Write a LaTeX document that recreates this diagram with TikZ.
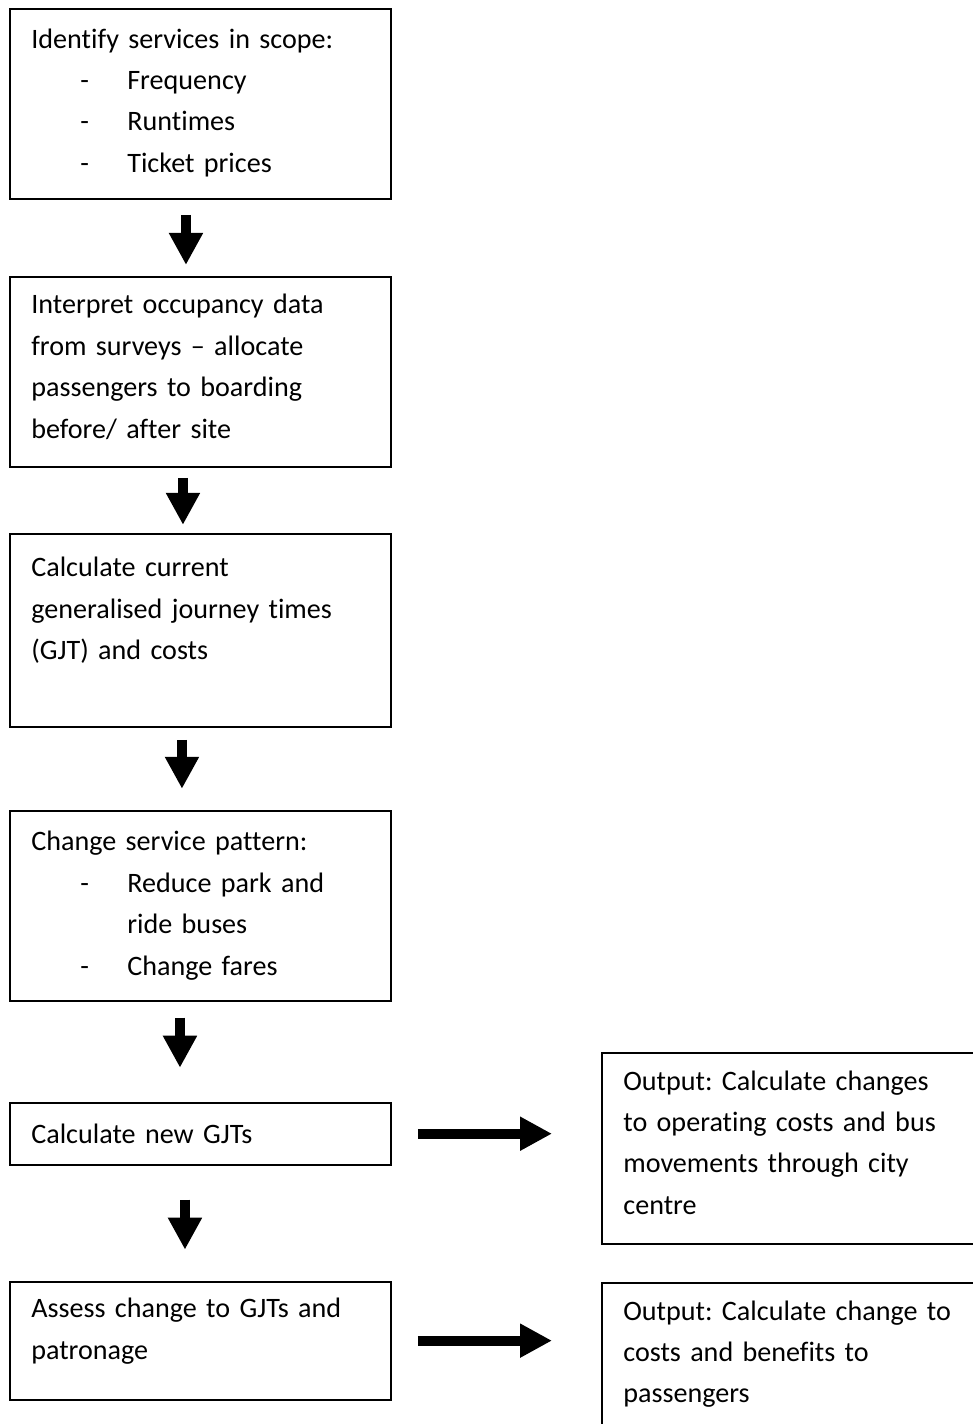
\documentclass[tikz,border=0pt]{standalone}
\usepackage{fontspec}
\setmainfont{Carlito}[Ligatures={NoCommon}]
\frenchspacing
\usetikzlibrary{arrows.meta,positioning}
\tikzset{
  % plain step box, text is set on top of it
  stepbox/.style={
    rectangle, draw=black, line width=1.1pt,
    anchor=north west, minimum width=7.62cm, inner sep=0pt
  },
  outbox/.style={stepbox, minimum width=8cm},
  % box text
  steptext/.style={
    anchor=base west, inner sep=0pt, align=left, text width=7.2cm,
    font=\fontsize{16pt}{23.6pt}\selectfont
  },
  % fat block arrow
  blockarr/.style={-{Triangle[length=0.64cm,width=0.64cm]}, line width=0.2cm, black},
}

\begin{document}
\begin{tikzpicture}

  \useasboundingbox (0,0) rectangle (19.46,-28.48);
  \clip (0,0) rectangle (19.46,-28.48);

  \node[stepbox, minimum height=3.80cm] (scope) at (0.18,-0.16) {};
  \node[stepbox, below=1.52cm of scope, minimum height=3.80cm] (occup) {};
  \node[stepbox, below=1.30cm of occup, minimum height=3.86cm] (gjt) {};
  \node[stepbox, below=1.64cm of gjt, minimum height=3.80cm] (pattern) {};
  \node[stepbox, below=2.00cm of pattern, minimum height=1.24cm] (newgjt) {};
  \node[stepbox, below=2.30cm of newgjt, minimum height=2.36cm] (assess) {};

  \node[outbox, minimum height=3.82cm] (opcost) at (12.02,-21.04) {};
  \node[outbox, minimum height=4.00cm] (benefit) at (12.02,-25.64) {};

  %% Texts
  \node[steptext] (scopetxt) at ([xshift=0.44cm,yshift=-0.80cm]scope.north west)
    {Identify services in scope:\\
     \hspace*{0.98cm}\makebox[0.94cm][l]{-}Frequency\\
     \hspace*{0.98cm}\makebox[0.94cm][l]{-}Runtimes\\
     \hspace*{0.98cm}\makebox[0.94cm][l]{-}Ticket prices};

  \node[steptext] (occuptxt) at ([xshift=0.44cm,yshift=-0.76cm]occup.north west)
    {Interpret occupancy data\\from surveys – allocate\\passengers to boarding\\before/ after site};

  \node[steptext] (gjttxt) at ([xshift=0.44cm,yshift=-0.88cm]gjt.north west)
    {Calculate current\\generalised journey times\\(GJT) and costs};

  \node[steptext] (patterntxt) at ([xshift=0.44cm,yshift=-0.82cm]pattern.north west)
    {Change service pattern:\\
     \hspace*{0.98cm}\makebox[0.94cm][l]{-}Reduce park and\\
     \hspace*{1.92cm}ride buses\\
     \hspace*{0.98cm}\makebox[0.94cm][l]{-}Change fares};

  \node[steptext] (newgjttxt) at ([xshift=0.44cm,yshift=-0.84cm]newgjt.north west)
    {Calculate new GJTs};

  \node[steptext] (assesstxt) at ([xshift=0.44cm,yshift=-0.74cm]assess.north west)
    {Assess change to GJTs and\\patronage};

  \node[steptext] (opcosttxt) at ([xshift=0.44cm,yshift=-0.76cm]opcost.north west)
    {Output: Calculate changes\\to operating costs and bus\\movements through city\\centre};

  \node[steptext] (benefittxt) at ([xshift=0.44cm,yshift=-0.76cm]benefit.north west)
    {Output: Calculate change to\\costs and benefits to\\passengers};

  %% Arrows
  \draw[blockarr, shorten <=0.30cm, shorten >=0.22cm] ([xshift=-0.29cm]scope.south) -- ([xshift=-0.29cm]occup.north);
  \draw[blockarr, shorten <=0.20cm, shorten >=0.16cm] ([xshift=-0.35cm]occup.south) -- ([xshift=-0.35cm]gjt.north);
  \draw[blockarr, shorten <=0.24cm, shorten >=0.42cm] ([xshift=-0.37cm]gjt.south) -- ([xshift=-0.37cm]pattern.north);
  \draw[blockarr, shorten <=0.32cm, shorten >=0.68cm] ([xshift=-0.41cm]pattern.south) -- ([xshift=-0.41cm]newgjt.north);
  \draw[blockarr, shorten <=0.68cm, shorten >=0.62cm] ([xshift=-0.31cm]newgjt.south) -- ([xshift=-0.31cm]assess.north);
  \draw[blockarr, shorten <=0.52cm, shorten >=0.98cm] (newgjt.east) -- (newgjt.east -| opcost.west);
  \draw[blockarr, shorten <=0.52cm, shorten >=0.98cm] (assess.east) -- (assess.east -| benefit.west);

\end{tikzpicture}
\end{document}
